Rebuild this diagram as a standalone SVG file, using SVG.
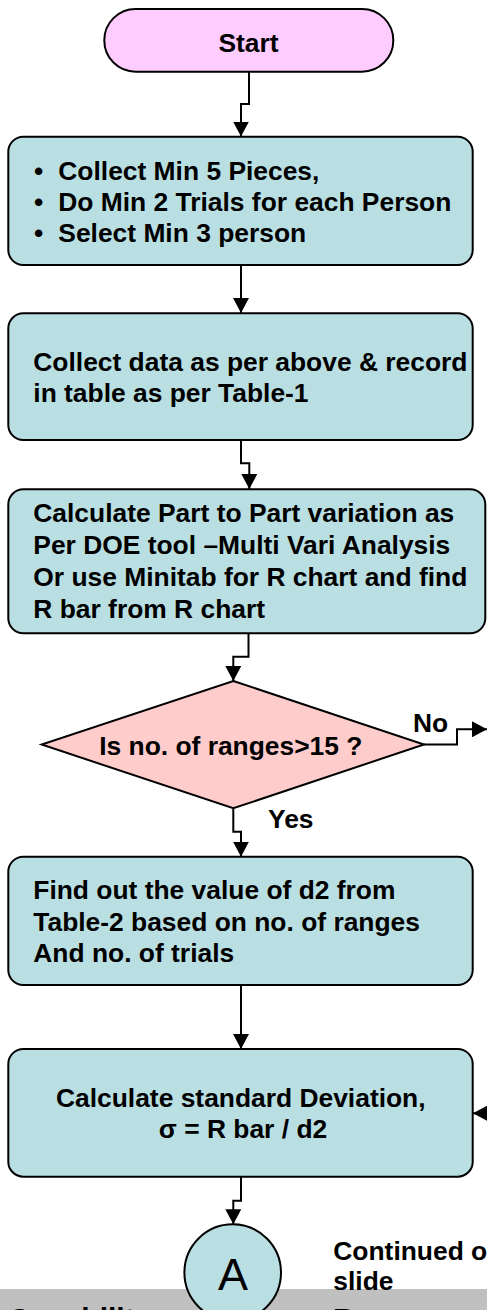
<svg xmlns="http://www.w3.org/2000/svg" width="487" height="1310" viewBox="0 0 487 1310">
<style>
.t{font-family:"Liberation Sans",Arial,Helvetica,sans-serif;font-weight:bold;font-size:26.4px;fill:#000}
.box{fill:#BADFE2;stroke:#000;stroke-width:2}
.term{fill:#FFCCFF;stroke:#000;stroke-width:2}
.dec{fill:#FFCCCC;stroke:#000;stroke-width:2}
.con{fill:none;stroke:#000;stroke-width:2;marker-end:url(#ah)}
.mid{text-anchor:middle}
</style>
<defs>
<marker id="ah" viewBox="0 0 15 16" refX="15" refY="8" markerWidth="15" markerHeight="16" markerUnits="userSpaceOnUse" orient="auto">
<path d="M0,0 L15,8 L0,16 z" fill="#000"/>
</marker>
</defs>
<rect x="0" y="0" width="487" height="1310" fill="#fff"/>
<g id="footer-band">
<rect x="0" y="1289" width="487" height="21" fill="#C0C0C0"/>
<text class="t" x="8" y="1328.5" style="font-size:30px">Capability</text>
<text class="t" x="333" y="1328.5" style="font-size:30px">Range</text>
</g>
<g id="connectors">
<path class="con" d="M249,72 V104 H241 V136.5"/>
<path class="con" d="M241,265 V313"/>
<path class="con" d="M241,440 V463.3 H249.3 V489"/>
<path class="con" d="M248.5,633.5 V656.7 H233.3 V681"/>
<path class="con" d="M233.3,808.3 V831.7 H241 V856.7"/>
<path class="con" d="M424,744.5 H457 V729.3 H487"/>
<path class="con" d="M241,985 V1049"/>
<path class="con" d="M241,1176.7 V1200.7 H233.3 V1224.3"/>
<path class="con" d="M505,1113.3 H473"/>
</g>
<g id="node-start">
<rect class="term" x="104.3" y="9" width="289" height="62.7" rx="31.3" ry="31.3"/>
<text class="t mid" x="248.5" y="51.7">Start</text>
</g>
<g id="node-collect">
<rect class="box" x="8.3" y="136.7" width="464.4" height="128.3" rx="15" ry="15"/>
<text class="t" x="34" y="179.5">•</text>
<text class="t" x="58.3" y="179.5">Collect Min 5 Pieces,</text>
<text class="t" x="34" y="210.7">•</text>
<text class="t" x="58.3" y="210.7">Do Min 2 Trials for each Person</text>
<text class="t" x="34" y="241.8">•</text>
<text class="t" x="58.3" y="241.8">Select Min 3 person</text>
</g>
<g id="node-data">
<rect class="box" x="8.3" y="313.3" width="464.4" height="126.7" rx="15" ry="15"/>
<text class="t" x="33.3" y="370.7">Collect data as per above &amp; record</text>
<text class="t" x="33.3" y="401.7">in table as per Table-1</text>
</g>
<g id="node-calc">
<rect class="box" x="8.3" y="489.3" width="477" height="144" rx="15" ry="15"/>
<text class="t" x="33.3" y="521.7">Calculate Part to Part variation as</text>
<text class="t" x="33.3" y="553.5">Per DOE tool –Multi Vari Analysis</text>
<text class="t" x="33.3" y="585.7">Or use Minitab for R chart and find</text>
<text class="t" x="33.3" y="617.7">R bar from R chart</text>
</g>
<g id="node-decision">
<polygon class="dec" points="233.3,681 424,744.5 233.3,808.3 41.7,744.5"/>
<text class="t mid" x="230.8" y="755">Is no. of ranges&gt;15 ?</text>
</g>
<g id="labels">
<text class="t" x="413" y="731.7">No</text>
<text class="t" x="268" y="828.3">Yes</text>
<text class="t" x="333.3" y="1260">Continued o</text>
<text class="t" x="333.3" y="1290">slide</text>
</g>
<g id="node-d2">
<rect class="box" x="8.3" y="856.7" width="464.4" height="128.3" rx="15" ry="15"/>
<text class="t" x="33.3" y="899.3">Find out the value of d2 from</text>
<text class="t" x="33.3" y="930.7">Table-2 based on no. of ranges</text>
<text class="t" x="33.3" y="962.3">And no. of trials</text>
</g>
<g id="node-sigma">
<rect class="box" x="8.3" y="1049" width="464.4" height="127.7" rx="15" ry="15"/>
<text class="t mid" x="240.8" y="1106.7">Calculate standard Deviation,</text>
<text class="t mid" x="243" y="1138.3">σ = R bar / d2</text>
</g>
<g id="node-A">
<circle class="box" cx="232.7" cy="1272.6" r="48.3"/>
<text class="mid" x="233" y="1290" style="font-family:'Liberation Sans',Arial,sans-serif;font-size:45px;fill:#000">A</text>
</g>
</svg>
